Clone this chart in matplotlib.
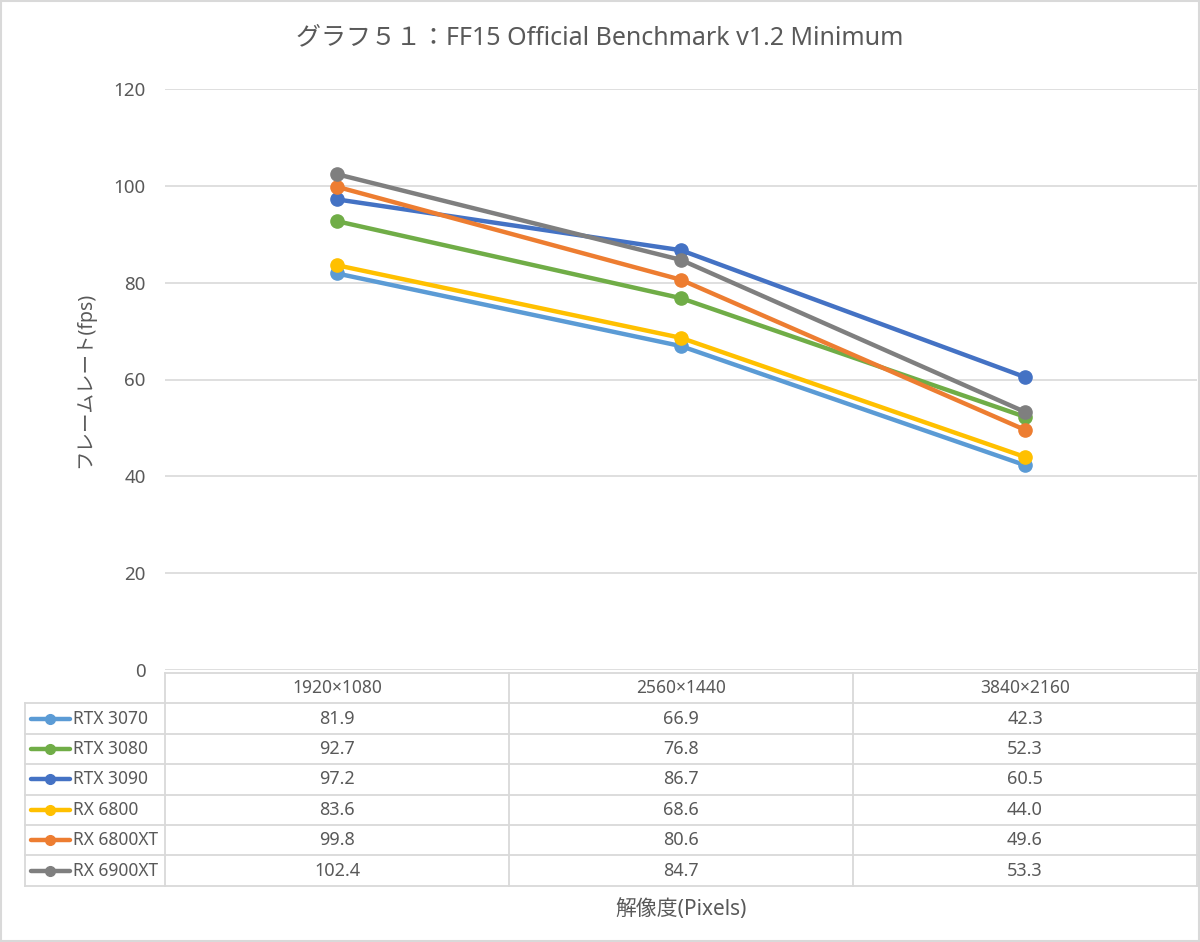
import matplotlib
matplotlib.use("Agg")
import matplotlib.pyplot as plt
from matplotlib.lines import Line2D
from matplotlib.patches import Rectangle

plt.rcParams['font.family'] = ['Noto Sans', 'Noto Sans CJK JP', 'DejaVu Sans']

title = "グラフ５１：FF15 Official Benchmark v1.2 Minimum"
categories = ["1920×1080", "2560×1440", "3840×2160"]
series_names = ["RTX 3070", "RTX 3080", "RTX 3090", "RX 6800", "RX 6800XT", "RX 6900XT"]
rtx3070 = [81.9, 66.9, 42.3]
rtx3080 = [92.7, 76.8, 52.3]
rtx3090 = [97.2, 86.7, 60.5]
rx6800 = [83.6, 68.6, 44.0]
rx6800xt = [99.8, 80.6, 49.6]
rx6900xt = [102.4, 84.7, 53.3]
series_values = [rtx3070, rtx3080, rtx3090, rx6800, rx6800xt, rx6900xt]
colors = ["#5B9BD5", "#70AD47", "#4472C4", "#FFC000", "#ED7D31", "#7F7F7F"]
yticks = [0, 20, 40, 60, 80, 100, 120]

W, H = 1200, 942
fig = plt.figure(figsize=(W / 100, H / 100), dpi=100)
TXT = "#595959"
GRID = "#D9D9D9"

def fx(px):
    return px / W

def fy(py):
    return 1 - py / H

ax_l, ax_r, ax_t, ax_b = 165, 1197, 89, 670
ax = fig.add_axes([fx(ax_l), fy(ax_b), (ax_r - ax_l) / W, (ax_b - ax_t) / H])
ax.set_xlim(0, len(categories))
ax.set_ylim(0, 120)
ax.set_yticks(yticks)
ax.set_yticklabels([str(t) for t in yticks])
ax.set_xticks([])
ax.tick_params(axis='y', length=0, pad=14, labelsize=13.5, labelcolor=TXT)
ax.grid(axis='y', color=GRID, linewidth=1.2)
ax.set_axisbelow(True)
for s in ax.spines.values():
    s.set_visible(False)

xs = [i + 0.5 for i in range(len(categories))]
for vals, c in zip(series_values, colors):
    ax.plot(xs, vals, color=c, linewidth=3.2, marker='o', markersize=9.5,
            solid_capstyle='round', zorder=3)

# title and labels
fig.text(0.5, fy(38), title, ha='center', va='center', fontsize=18, color=TXT)
fig.text(fx(85), fy((ax_t + ax_b) / 2), "フレームレート(fps)", rotation=90,
         ha='center', va='center', fontsize=14, color=TXT)
fig.text(fx((ax_l + ax_r) / 2), fy(910), "解像度(Pixels)", ha='center', va='center',
         fontsize=15, color=TXT)

# data table
tbl_left = 25
tbl_top = 673
row_h = 30.4
col_w = (ax_r - ax_l) / len(categories)
n_rows = len(series_names)
bottom = tbl_top + row_h * (n_rows + 1)

def hline(x0, x1, y):
    fig.add_artist(Line2D([fx(x0), fx(x1)], [fy(y), fy(y)], color=GRID, linewidth=1.3))

def vline(x, y0, y1):
    fig.add_artist(Line2D([fx(x), fx(x)], [fy(y0), fy(y1)], color=GRID, linewidth=1.3))

hline(ax_l, ax_r, tbl_top)
for r in range(1, n_rows + 2):
    hline(tbl_left, ax_r, tbl_top + row_h * r)
vline(tbl_left, tbl_top + row_h, bottom)
for j in range(len(categories) + 1):
    vline(ax_l + col_w * j, tbl_top, bottom)

for j, cat in enumerate(categories):
    fig.text(fx(ax_l + col_w * (j + 0.5)), fy(tbl_top + row_h * 0.5), cat,
             ha='center', va='center', fontsize=12.5, color=TXT)

for i, (name, vals, c) in enumerate(zip(series_names, series_values, colors)):
    yc = tbl_top + row_h * (i + 1.5)
    fig.add_artist(Line2D([fx(31), fx(70)], [fy(yc), fy(yc)], color=c, linewidth=3.2,
                          solid_capstyle='round'))
    fig.add_artist(Line2D([fx(50)], [fy(yc)], color=c, marker='o', markersize=7,
                          linestyle='none'))
    fig.text(fx(73), fy(yc), name, ha='left', va='center', fontsize=12.5, color=TXT)
    for j, v in enumerate(vals):
        fig.text(fx(ax_l + col_w * (j + 0.5)), fy(yc), f"{v:.1f}",
                 ha='center', va='center', fontsize=13, color=TXT)

# outer frame
fig.add_artist(Rectangle((fx(1), fy(H - 1)), fx(W - 2), (H - 2) / H, fill=False,
                         edgecolor=GRID, linewidth=1.5, transform=fig.transFigure))

fig.savefig("out.png", dpi=100, facecolor='white')
